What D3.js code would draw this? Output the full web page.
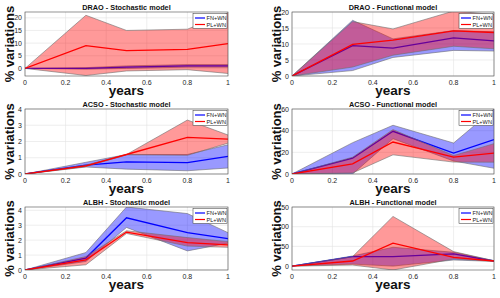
<!DOCTYPE html>
<html>
<head>
<meta charset="utf-8">
<script src="https://cdn.jsdelivr.net/npm/d3@7"></script>
<style>
body { margin: 0; background: #fff; }
svg { display: block; font-family: "Liberation Sans", Arial, sans-serif; }
</style>
</head>
<body>
<script>
var years = [0, 0.3, 0.5, 0.8, 1];
var xTicks = [0, 0.2, 0.4, 0.6, 0.8, 1];

var titles = ["DRAO - Stochastic model", "DRAO - Functional model",
              "ACSO - Stochastic model", "ACSO - Functional model",
              "ALBH - Stochastic model", "ALBH - Functional model"];
var yDomains = [[-3, 22.3], [0, 20], [0, 4], [0, 60], [0, 4.22], [-10, 150]];
var yTicks = [[0, 5, 10, 15, 20], [0, 5, 10, 15, 20], [0, 1, 2, 3, 4],
              [0, 20, 40, 60], [0, 1, 2, 3, 4], [0, 50, 100, 150]];

// FN+WN (blue) and PL+WN (red): mean, lower, upper
var draoStochFN = {mean: [0, 0, 0.5, 1, 1], lo: [0, -0.3, 0, 0.5, 0.5], hi: [0, 0.3, 1, 1.5, 1.5]};
var draoStochPL = {mean: [0, 9, 7, 7.5, 9.8], lo: [0, -2.8, -1, -0.5, -2], hi: [0, 21, 15, 15.5, 22]};
var draoFuncFN = {mean: [0, 9.5, 8.7, 11.9, 11], lo: [0, 1.7, 5.8, 8, 7.8], hi: [0, 17.4, 11.6, 14.2, 13.8]};
var draoFuncPL = {mean: [0, 9.9, 11.2, 14.1, 13.6], lo: [0, 2.8, 6.5, 9.3, 8.5], hi: [0, 17, 14.7, 20.3, 19.2]};
var acsoStochFN = {mean: [0, 0.55, 0.74, 0.7, 1.09], lo: [0, 0.43, 0.3, 0.2, 0.37], hi: [0, 0.72, 1.2, 1.2, 1.8]};
var acsoStochPL = {mean: [0, 0.5, 1.2, 2.25, 2.14], lo: [0, 0.45, 1.18, 1.15, 1.9], hi: [0, 0.55, 1.2, 3.32, 2.4]};
var acsoFuncFN = {mean: [0, 14.6, 39.4, 19.3, 31.7], lo: [0, 0, 32.6, 12, 5.3], hi: [0, 28.9, 45, 28.6, 60]};
var acsoFuncPL = {mean: [0, 9.3, 29.5, 15.5, 19.3], lo: [0, 1, 17.7, 11, 10.9], hi: [0, 15.5, 41, 17, 28]};
var albhStochFN = {mean: [0, 0.8, 3.5, 2.5, 2.1], lo: [0, 0.57, 2.85, 1.28, 1.8], hi: [0, 1.17, 4.22, 3.78, 2.5]};
var albhStochPL = {mean: [0, 0.68, 2.54, 1.83, 1.68], lo: [0, 0.35, 2.45, 1.6, 1.52], hi: [0, 0.9, 2.63, 2.17, 1.9]};
var albhFuncFN = {mean: [0, 23.9, 23.9, 30.7, 12.8], lo: [0, 5, 0, 15.3, 12], hi: [0, 25.6, 47.7, 35, 13.6]};
var albhFuncPL = {mean: [0, 12.8, 58, 22, 12.8], lo: [0, 2.6, -10, 17.9, 12], hi: [0, 24, 126, 36.7, 13.6]};

var fnSeries = [draoStochFN, draoFuncFN, acsoStochFN, acsoFuncFN, albhStochFN, albhFuncFN];
var plSeries = [draoStochPL, draoFuncPL, acsoStochPL, acsoFuncPL, albhStochPL, albhFuncPL];

var W = 500, H = 298;
var colX = [[25, 228], [292, 494]];
var rowY = [[12, 76], [109, 174], [207, 270]];

var svg = d3.select("body").append("svg").attr("width", W).attr("height", H);

for (var p = 0; p < 6; p++) {
    drawPanel(p);
}

function drawPanel(p) {
    var col = p % 2, row = Math.floor(p / 2);
    var x = d3.scaleLinear().domain([0, 1]).range(colX[col]);
    var y = d3.scaleLinear().domain(yDomains[p]).range([rowY[row][1], rowY[row][0]]);
    var g = svg.append("g");
    var left = colX[col][0], right = colX[col][1], top = rowY[row][0], bottom = rowY[row][1];

    g.append("clipPath").attr("id", "clip" + p).append("rect")
        .attr("x", left).attr("y", top).attr("width", right - left).attr("height", bottom - top);

    // grid
    g.selectAll(".gx").data(xTicks).enter().append("line")
        .attr("x1", d => x(d)).attr("x2", d => x(d)).attr("y1", top).attr("y2", bottom)
        .attr("stroke", "#e3e3e3").attr("stroke-width", 0.6);
    g.selectAll(".gy").data(yTicks[p]).enter().append("line")
        .attr("x1", left).attr("x2", right).attr("y1", d => y(d)).attr("y2", d => y(d))
        .attr("stroke", "#e3e3e3").attr("stroke-width", 0.6);

    var plot = g.append("g").attr("clip-path", "url(#clip" + p + ")");
    var area = function(s) {
        return d3.area().x((d, i) => x(years[i])).y0((d, i) => y(s.lo[i])).y1((d, i) => y(s.hi[i]))(years);
    };
    var line = function(s) {
        return d3.line().x((d, i) => x(years[i])).y((d, i) => y(s.mean[i]))(years);
    };
    var edges = function(s, k) {
        return d3.line().x((d, i) => x(years[i])).y((d, i) => y(s[k][i]))(years);
    };

    [[fnSeries[p], "#0000ff"], [plSeries[p], "#ff0000"]].forEach(function(e) {
        var s = e[0], c = e[1];
        plot.append("path").attr("d", area(s)).attr("fill", c).attr("fill-opacity", 0.4);
        plot.append("path").attr("d", edges(s, "lo")).attr("fill", "none").attr("stroke", "#6e6e6e").attr("stroke-width", 0.6);
        plot.append("path").attr("d", edges(s, "hi")).attr("fill", "none").attr("stroke", "#6e6e6e").attr("stroke-width", 0.6);
        plot.append("path").attr("d", line(s)).attr("fill", "none").attr("stroke", c).attr("stroke-width", 1.3);
    });

    // box
    g.append("rect").attr("x", left).attr("y", top).attr("width", right - left).attr("height", bottom - top)
        .attr("fill", "none").attr("stroke", "#4d4d4d").attr("stroke-width", 0.6);

    // tick labels
    g.selectAll(".xt").data(xTicks).enter().append("text")
        .attr("x", d => x(d)).attr("y", bottom + 8.5).attr("text-anchor", "middle")
        .attr("font-size", 7).attr("fill", "#262626").text(d => d3.format("~g")(d));
    g.selectAll(".yt").data(yTicks[p]).enter().append("text")
        .attr("x", left - 3).attr("y", d => y(d) + 2.5).attr("text-anchor", "end")
        .attr("font-size", 7).attr("fill", "#262626").text(d => d);

    // title and labels
    g.append("text").attr("x", (left + right) / 2).attr("y", top - 2.5).attr("text-anchor", "middle")
        .attr("font-size", 7.3).attr("font-weight", "bold").attr("fill", "#111").text(titles[p]);
    g.append("text").attr("x", (left + right) / 2).attr("y", bottom + 19).attr("text-anchor", "middle")
        .attr("font-size", 13.5).attr("font-weight", "bold").attr("fill", "#111").text("years");
    var ylx = col === 0 ? 14 : 281;
    g.append("text").attr("transform", "translate(" + ylx + "," + ((top + bottom) / 2) + ") rotate(-90)")
        .attr("text-anchor", "middle").attr("font-size", 13).attr("font-weight", "bold").attr("fill", "#111")
        .text("% variations");

    // legend
    var lg = g.append("g").attr("transform", "translate(" + (right - 35) + "," + (top + 1.5) + ")");
    lg.append("rect").attr("width", 34).attr("height", 15).attr("fill", "#fff")
        .attr("stroke", "#333").attr("stroke-width", 0.5);
    [["FN+WN", "#0000ff"], ["PL+WN", "#ff0000"]].forEach(function(e, i) {
        lg.append("line").attr("x1", 2).attr("x2", 12).attr("y1", 4.5 + i * 6.5).attr("y2", 4.5 + i * 6.5)
            .attr("stroke", e[1]).attr("stroke-width", 1.2);
        lg.append("text").attr("x", 13.5).attr("y", 6.5 + i * 6.5).attr("font-size", 5.6)
            .attr("fill", "#222").text(e[0]);
    });
}
</script>
</body>
</html>
